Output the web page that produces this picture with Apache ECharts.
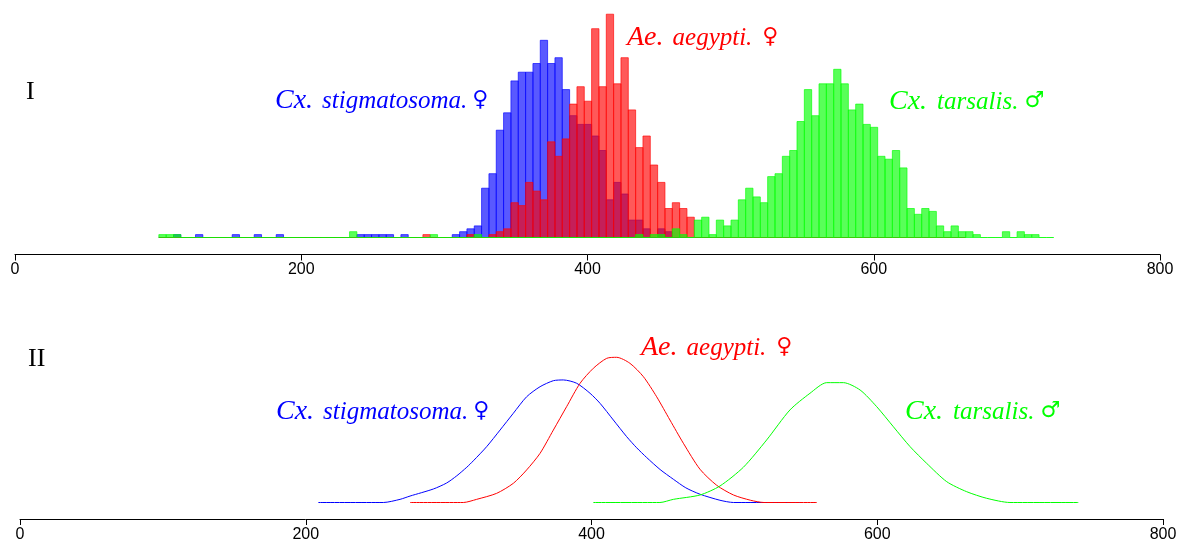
<!DOCTYPE html>
<html>
<head>
<meta charset="utf-8">
<script src="https://cdn.jsdelivr.net/npm/echarts@6/dist/echarts.min.js"></script>
<style>
  html, body { margin: 0; background: #fff; }
  #chart { width: 1194px; height: 555px; }
</style>
</head>
<body>
<div id="chart"></div>
<script>
  // histogram bins (panel I): left edge of first bin and bin width, in x units
  var binStart = 100.5;
  var binWidth = 5.125;

  // counts per bin, bin k starts at binStart + k * binWidth
  var stigmatosomaCounts = [
    0, 0, 1, 0, 0, 1, 0, 0, 0, 0,
    1, 0, 0, 1, 0, 0, 1, 0, 0, 0,
    0, 0, 0, 0, 0, 0, 0, 1, 1, 1,
    1, 1, 0, 1, 0, 0, 0, 0, 0, 0,
    1, 2, 3, 4, 17, 22, 37, 43, 54, 57,
    57, 60, 68, 60, 62, 51, 42, 39, 39, 35,
    30, 13, 19, 15, 6, 6, 3, 0, 3, 2,
    0, 0, 0, 0, 0, 0, 0, 0
  ];
  var aegyptiCounts = [
    0, 0, 0, 0, 0, 0, 0, 0, 0, 0,
    0, 0, 0, 0, 0, 0, 0, 0, 0, 0,
    0, 0, 0, 0, 0, 0, 0, 0, 0, 0,
    0, 0, 0, 0, 0, 0, 1, 0, 0, 0,
    0, 0, 1, 0, 0, 1, 2, 3, 12, 11,
    19, 16, 13, 33, 28, 34, 46, 52, 47, 72,
    52, 77, 53, 62, 44, 31, 35, 25, 19, 10,
    12, 10, 7, 0, 0, 0, 0, 0, 0, 0,
    0, 0, 0, 0, 0, 0, 0, 0, 0, 0,
    0, 0, 0, 0, 0, 0, 0, 0, 0, 0,
    0, 0, 0, 0, 0, 0, 0, 0, 0, 0
  ];
  var tarsalisCounts = [
    1, 1, 1, 0, 0, 0, 0, 0, 0, 0,
    0, 0, 0, 0, 0, 0, 0, 0, 0, 0,
    0, 0, 0, 0, 0, 0, 2, 0, 0, 0,
    0, 0, 0, 0, 0, 0, 0, 1, 0, 0,
    0, 0, 0, 1, 0, 0, 0, 0, 0, 0,
    0, 0, 0, 0, 0, 0, 0, 0, 0, 0,
    0, 0, 0, 0, 0, 1, 0, 1, 1, 0,
    3, 1, 0, 6, 7, 1, 6, 4, 6, 13,
    17, 14, 12, 21, 22, 28, 30, 40, 51, 42,
    53, 53, 58, 53, 44, 46, 39, 38, 28, 27,
    30, 24, 10, 8, 10, 9, 4, 2, 4, 2,
    2, 1, 0, 0, 0, 2, 0, 2, 1, 1,
    0, 0
  ];

  // density curves (panel II): [x, density]
  var stigmatosomaDensity = [
    [208.8, 0], [254.3, 0], [266.0, 0.00021], [273.0, 0.00043], [289.3, 0.0009],
    [298.6, 0.0013], [305.7, 0.00178], [312.7, 0.00235], [317.3, 0.00278], [326.6, 0.00372],
    [336.0, 0.00483], [345.3, 0.00595], [354.6, 0.00705], [364.0, 0.00772], [373.3, 0.00812],
    [380.3, 0.00817], [389.6, 0.00795], [399.0, 0.00728], [406.0, 0.00661], [415.3, 0.0055],
    [424.6, 0.00439], [431.6, 0.00365], [438.6, 0.003], [448.0, 0.0022], [457.3, 0.00155],
    [466.0, 0.00098], [476.0, 0.00055], [489.9, 0.00015], [499.4, 0], [546.0, 0]
  ];
  var aegyptiDensity = [
    [273.0, 0], [310.3, 0], [319.6, 0.00021], [333.6, 0.00061], [345.3, 0.00128],
    [354.6, 0.00217], [364.0, 0.00328], [373.3, 0.00483], [382.6, 0.00639], [392.0, 0.00795],
    [401.3, 0.00895], [410.6, 0.00961], [417.6, 0.00968], [426.9, 0.00928], [436.3, 0.00839],
    [445.6, 0.00705], [454.9, 0.0055], [464.3, 0.00395], [475.9, 0.00222], [487.6, 0.00115],
    [499.4, 0.0005], [511.3, 0.00015], [520.7, 0], [557.7, 0]
  ];
  var tarsalisDensity = [
    [401.3, 0], [447.9, 0], [457.3, 0.00021], [475.9, 0.0005], [489.9, 0.0011],
    [506.3, 0.00235], [522.6, 0.00417], [538.9, 0.00617], [552.9, 0.00728], [564.6, 0.00799],
    [576.3, 0.00799], [588.0, 0.0075], [599.6, 0.00639], [611.3, 0.00505], [623.0, 0.00372],
    [634.6, 0.00261], [648.6, 0.00139], [662.6, 0.00072], [676.6, 0.00028], [692.9, 0],
    [740.7, 0]
  ];

  var xMin = 0, xMax = 800, xStep = 200;

  var BLUE = 'rgba(0,0,255,0.65)';
  var RED = 'rgba(255,0,0,0.65)';
  var GREEN = 'rgba(0,255,0,0.65)';

  function histSeries(counts, color) {
    var data = counts.map(function (c, k) {
      return [binStart + k * binWidth, binStart + (k + 1) * binWidth, c];
    });
    return {
      type: 'custom',
      xAxisIndex: 0,
      yAxisIndex: 0,
      data: data,
      encode: { x: [0, 1], y: 2 },
      silent: true,
      renderItem: function (params, api) {
        var p0 = api.coord([api.value(0), api.value(2)]);
        var p1 = api.coord([api.value(1), 0]);
        return {
          type: 'rect',
          shape: { x: p0[0], y: p0[1], width: p1[0] - p0[0], height: p1[1] - p0[1] },
          style: { fill: color, stroke: color, lineWidth: 1 }
        };
      }
    };
  }

  function curveSeries(points, color) {
    return {
      type: 'line',
      xAxisIndex: 1,
      yAxisIndex: 1,
      data: points,
      showSymbol: false,
      smooth: 0.25,
      silent: true,
      lineStyle: { color: color, width: 1 }
    };
  }

  function xAxis(gridIndex, offset, margin) {
    return {
      type: 'value',
      gridIndex: gridIndex,
      min: xMin,
      max: xMax,
      interval: xStep,
      offset: offset,
      axisLine: { show: true, onZero: false, lineStyle: { color: '#000', width: 1 } },
      axisTick: { show: true, length: 6, lineStyle: { color: '#000' } },
      axisLabel: { color: '#000', fontSize: 16, fontFamily: 'Liberation Sans', margin: margin },
      splitLine: { show: false }
    };
  }

  // genus a little larger than species, both italic; sex symbol upright
  function label(genus, species, sym, x, y, color, gap1, gap2) {
    return {
      type: 'text',
      x: x,
      y: y,
      style: {
        text: '{g|' + genus + '}{p|' + species + '}{s|' + sym + '}',
        verticalAlign: 'middle',
        rich: {
          g: { font: 'italic 28px "Liberation Serif"', fill: color, padding: [0, gap1, 0, 0] },
          p: { font: 'italic 25px "Liberation Serif"', fill: color, padding: [0, gap2, 0, 0] },
          s: { font: '22px "DejaVu Sans"', fill: color, padding: [0, 0, 1, 0] }
        }
      }
    };
  }

  var chart = echarts.init(document.getElementById('chart'));
  chart.setOption({
    animation: false,
    grid: [
      { left: 15, right: 34, top: 5.5, height: 232 },
      { left: 20, right: 31, top: 352.5, height: 150 }
    ],
    xAxis: [xAxis(0, 17, 7), xAxis(1, 16.5, 8)],
    yAxis: [
      { type: 'value', gridIndex: 0, min: 0, max: 80, show: false },
      { type: 'value', gridIndex: 1, min: 0, max: 0.01, show: false }
    ],
    series: [
      histSeries(stigmatosomaCounts, BLUE),
      histSeries(aegyptiCounts, RED),
      histSeries(tarsalisCounts, GREEN),
      curveSeries(stigmatosomaDensity, '#0000ff'),
      curveSeries(aegyptiDensity, '#ff0000'),
      curveSeries(tarsalisDensity, '#00ff00')
    ],
    graphic: [
      { type: 'text', x: 26, y: 92, style: { text: 'I', font: '26px "Liberation Serif"', fill: '#000', verticalAlign: 'middle' } },
      { type: 'text', x: 28, y: 359, style: { text: 'II', font: '26px "Liberation Serif"', fill: '#000', verticalAlign: 'middle' } },
      label('Cx.', 'stigmatosoma.', '\u2640', 275, 101, '#0000ff', 9, 5),
      label('Ae.', 'aegypti.', '\u2640', 627, 38, '#ff0000', 9, 10),
      label('Cx.', 'tarsalis.', '\u2642', 889, 102, '#00ff00', 10, 6),
      label('Cx.', 'stigmatosoma.', '\u2640', 276, 412, '#0000ff', 9, 5),
      label('Ae.', 'aegypti.', '\u2640', 641, 348, '#ff0000', 9, 10),
      label('Cx.', 'tarsalis.', '\u2642', 905, 412, '#00ff00', 10, 6)
    ]
  });
</script>
</body>
</html>
